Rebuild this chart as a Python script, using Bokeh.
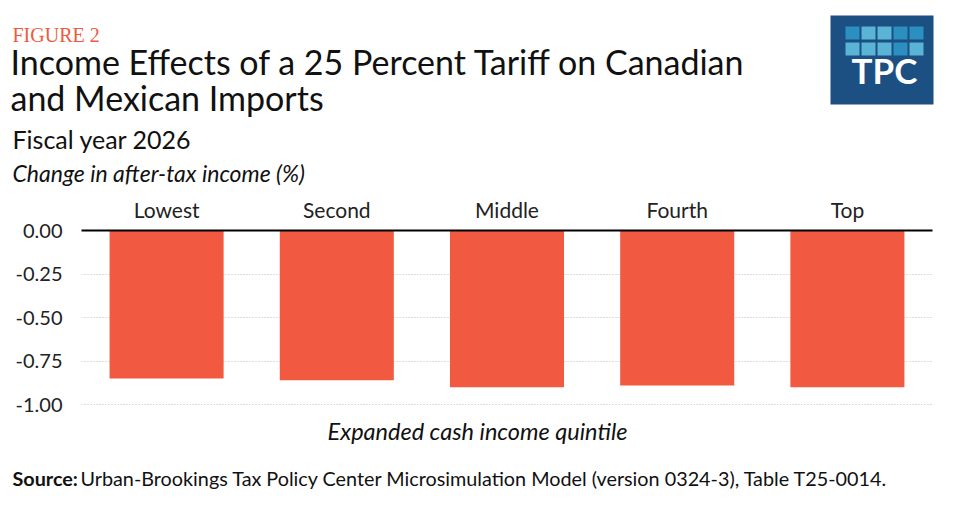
from bokeh.plotting import figure
from bokeh.layouts import column
from bokeh.models import Label, Range1d, FactorRange, FixedTicker, BoxAnnotation
from bokeh.embed import file_html
from bokeh.resources import INLINE

categories = ["Lowest", "Second", "Middle", "Fourth", "Top"]
values = [-0.85, -0.86, -0.90, -0.89, -0.90]
y_ticks = [0, -0.25, -0.5, -0.75, -1.0]
y_tick_labels = ["0.00", "-0.25", "-0.50", "-0.75", "-1.00"]

W = 962
HEAD_H = 190          # header strip (page y 0..190)
CHART_BOTTOM = 417    # chart strip (page y 190..417)
FOOT_H = 513 - CHART_BOTTOM
FL, FR, FT, FB = 81, 932, 230, 406
BAR = "#f15a40"
TXT = "#111111"


def strip(height, top):
    f = figure(width=W, height=height, x_range=Range1d(0, W), y_range=Range1d(top + height, top),
               x_axis_type=None, y_axis_type=None, output_backend="svg", toolbar_location=None,
               min_border=0, frame_align=False)
    f.outline_line_color = None
    f.xgrid.visible = False
    f.ygrid.visible = False
    f.background_fill_color = "white"
    f.border_fill_color = "white"
    return f


def add_text(f, text, px, baseline, size, color=TXT, font="Lato", style="normal", align="left"):
    # Labels render their alphabetic baseline about 0.42 em below y; compensate.
    f.add_layout(Label(x=px, y=baseline - 0.42 * size, text=text, text_font=font,
                       text_font_size=f"{size}px", text_color=color, text_font_style=style,
                       text_align=align, text_baseline="alphabetic"))


# ---------------- header ----------------
head = strip(HEAD_H, 0)
add_text(head, "FIGURE 2", 12, 43, 20, color="#ef5a3c", font="Liberation Serif")
add_text(head, "Income Effects of a 25 Percent Tariff on Canadian", 10, 75, 34)
add_text(head, "and Mexican Imports", 10, 111, 34)
add_text(head, "Fiscal year 2026", 12, 149, 25)
add_text(head, "Change in after-tax income (%)", 12, 182, 23, style="italic")


def box(f, l, r, t, b, color):
    f.add_layout(BoxAnnotation(left=l, right=r, top=t, bottom=b, fill_color=color,
                               fill_alpha=1, line_color=None))


box(head, 830, 933, 15, 104, "#1c4f82")
logo_rows = [(26, 39, ["#2b8fbf", "#5ab4d6", "#5ab4d6", "#2b8fbf", "#2b8fbf"]),
             (42, 55, ["#5ab4d6", "#5ab4d6", "#5ab4d6", "#2b8fbf", "#5ab4d6"])]
for top, bot, cols in logo_rows:
    for i, c in enumerate(cols):
        l = 845 + i * 16
        box(head, l, l + 14, top, bot, c)
add_text(head, "TPC", 884, 84, 35, color="white", style="bold", align="center")

# ---------------- chart ----------------
p = figure(width=W, height=CHART_BOTTOM - HEAD_H,
           x_range=FactorRange(factors=categories, range_padding=0),
           y_range=Range1d(-1.01, 0), x_axis_location="above",
           output_backend="svg", toolbar_location=None, frame_align=False,
           min_border_left=FL, min_border_right=W - FR, min_border_top=FT - HEAD_H,
           min_border_bottom=CHART_BOTTOM - FB)
p.outline_line_color = None
p.background_fill_color = "white"
p.border_fill_color = "white"

p.vbar(x=categories, top=values, bottom=0, width=0.67, fill_color=BAR, line_color=None)

ya = p.yaxis[0]
ya.ticker = FixedTicker(ticks=y_ticks)
ya.major_label_overrides = {t: l for t, l in zip(y_ticks, y_tick_labels)}
ya.axis_line_color = None
ya.major_tick_line_color = None
ya.minor_tick_line_color = None
ya.major_tick_out = 0
ya.major_tick_in = 0
ya.major_label_standoff = 19
ya.major_label_text_font = "Lato"
ya.major_label_text_font_size = "20px"
ya.major_label_text_color = "#222222"

xa = p.xaxis[0]
xa.axis_line_color = "black"
xa.axis_line_width = 2
xa.major_tick_line_color = None
xa.major_tick_out = 0
xa.major_tick_in = 0
xa.major_label_standoff = 9
xa.major_label_text_font = "Lato"
xa.major_label_text_font_size = "21px"
xa.major_label_text_color = "#222222"

p.xgrid.grid_line_color = None
p.ygrid.ticker = FixedTicker(ticks=y_ticks[1:])
p.ygrid.grid_line_color = "#bdbdbd"
p.ygrid.grid_line_dash = "1 2"
p.ygrid.grid_line_width = 1

# ---------------- footer ----------------
foot = strip(FOOT_H, CHART_BOTTOM)
add_text(foot, "Expanded cash income quintile", 477, 440, 23.5, style="italic", align="center")
add_text(foot, "Source:", 12, 486, 19.8, style="bold")
add_text(foot, "Urban-Brookings Tax Policy Center Microsimulation Model (version 0324-3), Table T25-0014.",
         80, 486, 19.8)

layout = column(head, p, foot, spacing=0)
open("out.html", "w").write(file_html(layout, INLINE))
